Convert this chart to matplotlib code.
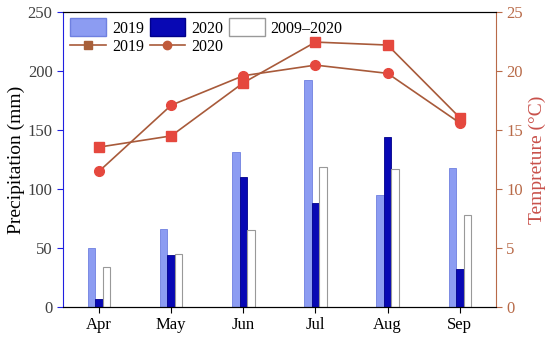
import numpy as np
import matplotlib

matplotlib.use("Agg")
import matplotlib.pyplot as plt
from matplotlib.patches import Patch
from matplotlib.lines import Line2D

plt.rcParams["font.family"] = ["Liberation Serif", "DejaVu Serif"]

months = ["Apr", "May", "Jun", "Jul", "Aug", "Sep"]
precip_2019 = [50, 66, 131, 192, 95, 118]
precip_2020 = [7, 44, 110, 88, 144, 32]
precip_avg = [34, 45, 65, 119, 117, 78]
temp_2019 = [13.55, 14.5, 19.0, 22.45, 22.2, 16.05]
temp_2020 = [11.5, 17.1, 19.6, 20.5, 19.8, 15.6]

LIGHT = "#8c9cf2"
DARK = "#0808b4"
LINE = "#a85a3a"
MARK = "#e5483e"
RIGHT = "#b86a48"
TLABEL = "#c8504a"

fig = plt.figure(figsize=(5.5, 3.43), dpi=100)
ax = fig.add_axes([0.1145, 0.105, 0.787, 0.86])
ax2 = ax.twinx()

x = np.arange(len(months))
w = 0.104
ax.bar(x - w, precip_2019, w, color=LIGHT, edgecolor="#6f80e0", lw=0.6, zorder=2)
ax.bar(x, precip_2020, w, color=DARK, edgecolor="#00008a", lw=0.6, zorder=2)
ax.bar(x + w, precip_avg, w, color="white", edgecolor="#999999", lw=0.8, zorder=2)

ax2.plot(x, temp_2019, "-", color=LINE, lw=1.2, marker="s", ms=6.5,
         mfc=MARK, mec=MARK, zorder=3)
ax2.plot(x, temp_2020, "-", color=LINE, lw=1.2, marker="o", ms=7,
         mfc=MARK, mec=MARK, zorder=3)

ax.set_xlim(-0.5, 5.5)
ax.set_ylim(0, 250)
ax2.set_ylim(0, 25)
ax.set_xticks(x)
ax.set_xticklabels(months)
ax.set_yticks(np.arange(0, 251, 50))
ax2.set_yticks(np.arange(0, 26, 5))

ax.tick_params(axis="x", direction="out", length=4, labelsize=12, colors="black")
ax.tick_params(axis="y", direction="out", length=4, labelsize=12,
               color="#2020e0", labelcolor="#404040")
ax2.tick_params(axis="y", direction="out", length=4, labelsize=12,
                color=RIGHT, labelcolor=RIGHT)

ax.spines["left"].set_color("#2020e0")
ax2.spines["left"].set_visible(False)
ax2.spines["right"].set_color(RIGHT)
ax.spines["right"].set_visible(False)
for a in (ax, ax2):
    a.spines["top"].set_color("black")
    a.spines["bottom"].set_color("black")

ax.set_ylabel("Precipitation (mm)", fontsize=14, labelpad=2)
ax2.set_ylabel("Tempreture (\u00b0C)", fontsize=14, color=TLABEL, labelpad=4)

bar_handles = [
    Patch(facecolor=LIGHT, edgecolor="#6f80e0", label="2019"),
    Patch(facecolor=DARK, edgecolor="#00008a", label="2020"),
    Patch(facecolor="white", edgecolor="#999999", label="2009\u20132020"),
]
line_handles = [
    Line2D([], [], color=LINE, lw=1.2, marker="s", ms=5.5, mfc="#a8603a",
           mec="#a8603a", label="2019"),
    Line2D([], [], color=LINE, lw=1.2, marker="o", ms=6, mfc="#c05a3a",
           mec="#c05a3a", label="2020"),
]
# bar legend on ax, line legend on ax2 so both get drawn once
ax.legend(handles=bar_handles, ncol=3, loc="upper left",
          bbox_to_anchor=(-0.005, 1.012), frameon=False, fontsize=11.5,
          handlelength=2.25, handleheight=1.4, handletextpad=0.35,
          columnspacing=0.35, borderaxespad=0.2)
ax2.legend(handles=line_handles, ncol=2, loc="upper left",
           bbox_to_anchor=(-0.005, 0.942), frameon=False, fontsize=11.5,
           handlelength=2.25, handletextpad=0.35, columnspacing=0.35,
           borderaxespad=0.2)

fig.savefig("out.png", dpi=100)
